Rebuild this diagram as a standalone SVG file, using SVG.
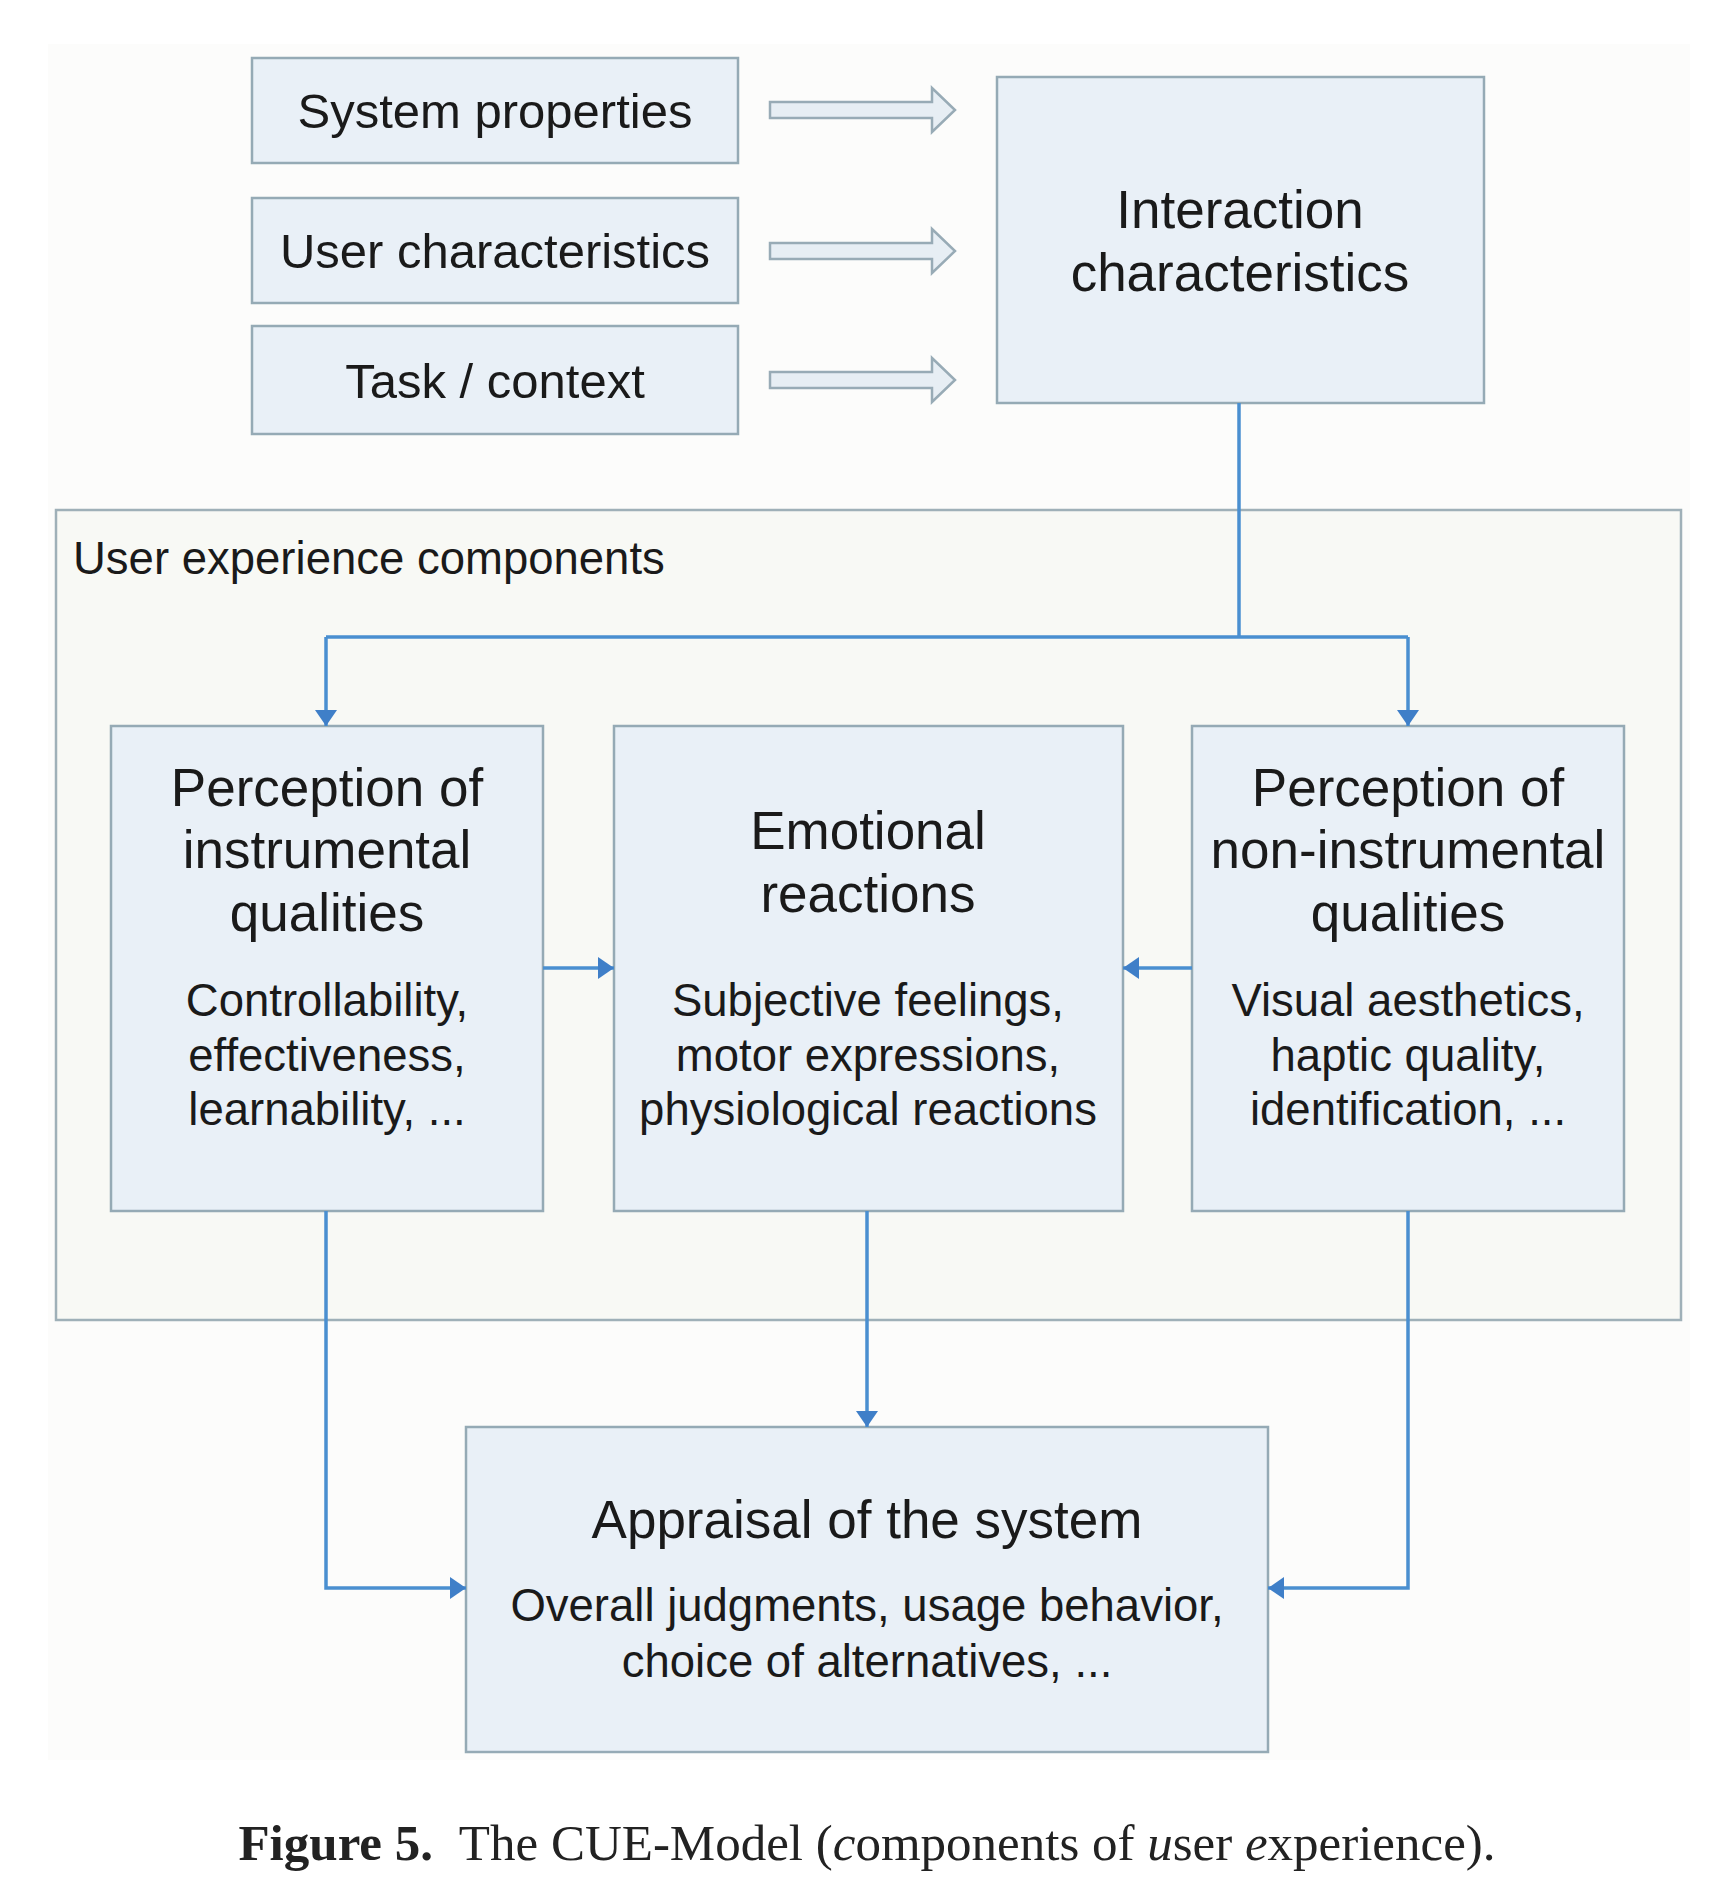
<svg xmlns="http://www.w3.org/2000/svg" width="1728" height="1902" viewBox="0 0 1728 1902">
<style>
.box{fill:#e9f0f7;stroke:#95aab5;stroke-width:2.5}
.outer{fill:#f8f9f5;stroke:#9fb0b8;stroke-width:2.5}
.t{font-family:"Liberation Sans",Arial,sans-serif;fill:#1a1a1a;text-anchor:middle}
.h{font-size:53px}
.s{font-size:45.5px}
.m{font-size:49px}
.conn{fill:none;stroke:#4a8fd0;stroke-width:3.5}
.hollow{fill:#e7eef4;stroke:#98abb6;stroke-width:2.5}
.cap{font-family:"Liberation Serif","Times New Roman",serif;font-size:51px;fill:#222}
</style>
<defs>
<marker id="ah" viewBox="0 0 16 22" refX="16" refY="11" markerWidth="16" markerHeight="22" markerUnits="userSpaceOnUse" orient="auto">
<path d="M0,0 L16,11 L0,22 Z" fill="#3f7fc8"/>
</marker>
<path id="harrow" class="hollow" d="M770,-8 L932,-8 L932,-22 L955,0 L932,22 L932,8 L770,8 Z"/>
</defs>
<rect x="48" y="44" width="1642" height="1716" fill="#fcfcfb"/>

<g id="system-properties">
<rect class="box" x="252" y="58" width="486" height="105"/>
<text class="t m" x="495" y="128">System properties</text>
</g>
<g id="user-characteristics">
<rect class="box" x="252" y="198" width="486" height="105"/>
<text class="t m" x="495" y="268">User characteristics</text>
</g>
<g id="task-context">
<rect class="box" x="252" y="326" width="486" height="108"/>
<text class="t m" x="495" y="398">Task / context</text>
</g>
<g id="interaction-characteristics">
<rect class="box" x="997" y="77" width="487" height="326"/>
<text class="t h" x="1240" y="228">Interaction</text>
<text class="t h" x="1240" y="291">characteristics</text>
</g>
<g id="user-experience-components">
<rect class="outer" x="56" y="510" width="1625" height="810"/>
<text class="t" x="73" y="574" style="text-anchor:start;font-size:45.5px">User experience components</text>
</g>
<g id="instrumental">
<rect class="box" x="111" y="726" width="432" height="485"/>
<text class="t h" x="327" y="806">Perception of</text>
<text class="t h" x="327" y="868">instrumental</text>
<text class="t h" x="327" y="931">qualities</text>
<text class="t s" x="327" y="1016">Controllability,</text>
<text class="t s" x="327" y="1071">effectiveness,</text>
<text class="t s" x="327" y="1125">learnability, ...</text>
</g>
<g id="emotional">
<rect class="box" x="614" y="726" width="509" height="485"/>
<text class="t h" x="868" y="849">Emotional</text>
<text class="t h" x="868" y="912">reactions</text>
<text class="t s" x="868" y="1016">Subjective feelings,</text>
<text class="t s" x="868" y="1071">motor expressions,</text>
<text class="t s" x="868" y="1125">physiological reactions</text>
</g>
<g id="non-instrumental">
<rect class="box" x="1192" y="726" width="432" height="485"/>
<text class="t h" x="1408" y="806">Perception of</text>
<text class="t h" x="1408" y="868">non-instrumental</text>
<text class="t h" x="1408" y="931">qualities</text>
<text class="t s" x="1408" y="1016">Visual aesthetics,</text>
<text class="t s" x="1408" y="1071">haptic quality,</text>
<text class="t s" x="1408" y="1125">identification, ...</text>
</g>
<g id="appraisal">
<rect class="box" x="466" y="1427" width="802" height="325"/>
<text class="t h" x="867" y="1538">Appraisal of the system</text>
<text class="t s" x="867" y="1621">Overall judgments, usage behavior,</text>
<text class="t s" x="867" y="1677">choice of alternatives, ...</text>
</g>

<g id="connectors">
<use href="#harrow" transform="translate(0,110)"/>
<use href="#harrow" transform="translate(0,251)"/>
<use href="#harrow" transform="translate(0,380)"/>
<path class="conn" d="M1239,403 L1239,637"/>
<path class="conn" d="M326,637 L1408,637"/>
<path class="conn" d="M326,637 L326,726" marker-end="url(#ah)"/>
<path class="conn" d="M1408,637 L1408,726" marker-end="url(#ah)"/>
<path class="conn" d="M543,968 L614,968" marker-end="url(#ah)"/>
<path class="conn" d="M1192,968 L1123,968" marker-end="url(#ah)"/>
<path class="conn" d="M326,1211 L326,1588 L466,1588" marker-end="url(#ah)"/>
<path class="conn" d="M867,1211 L867,1427" marker-end="url(#ah)"/>
<path class="conn" d="M1408,1211 L1408,1588 L1268,1588" marker-end="url(#ah)"/>
</g>

<text class="cap" x="867" y="1860" text-anchor="middle"><tspan font-weight="bold">Figure 5.</tspan><tspan dx="14"> The CUE-Model (</tspan><tspan font-style="italic">c</tspan>omponents of <tspan font-style="italic">u</tspan>ser <tspan font-style="italic">e</tspan>xperience).</text>
</svg>
